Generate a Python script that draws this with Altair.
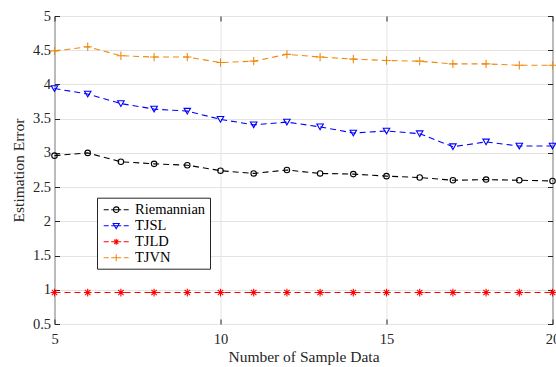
import altair as alt
import pandas as pd

# ---------------- data ----------------
x_vals = [5, 6, 7, 8, 9, 10, 11, 12, 13, 14, 15, 16, 17, 18, 19, 20]
series_names = ["Riemannian", "TJSL", "TJLD", "TJVN"]
riemannian = [2.96, 3.00, 2.87, 2.84, 2.82, 2.74, 2.70, 2.75, 2.70, 2.69, 2.66, 2.64, 2.60, 2.61, 2.60, 2.59]
tjsl = [3.94, 3.86, 3.72, 3.64, 3.61, 3.49, 3.41, 3.45, 3.38, 3.29, 3.32, 3.28, 3.09, 3.16, 3.10, 3.10]
tjld = [0.96, 0.96, 0.96, 0.96, 0.96, 0.96, 0.96, 0.96, 0.96, 0.96, 0.96, 0.96, 0.96, 0.96, 0.96, 0.96]
tjvn = [4.49, 4.55, 4.42, 4.40, 4.40, 4.32, 4.34, 4.44, 4.40, 4.37, 4.35, 4.34, 4.30, 4.30, 4.28, 4.28]
series_values = [riemannian, tjsl, tjld, tjvn]
x_ticks = [5, 10, 15, 20]
y_ticks = [0.5, 1, 1.5, 2, 2.5, 3, 3.5, 4, 4.5, 5]

# ---------------- styles ----------------
colors = ["#000000", "#0000FF", "#FF0000", "#EE8A12"]
marker_shapes = [
    "circle",
    "triangle-down",
    "M-1,0H1M0,-1V1M-0.7,-0.7L0.7,0.7M-0.7,0.7L0.7,-0.7",
    "M-1,0H1M0,-1V1",
]
marker_sizes = [30, 42, 60, 70]
# legend glyphs: dashed line segment with the marker in its middle
dashes = "M-0.757,0H-0.043M0.314,0H1.743M2.1,0H2.814"
legend_shapes = [
    dashes + "M1.43,0A0.4,0.4 0 1,1 0.63,0A0.4,0.4 0 1,1 1.43,0",
    dashes + "M0.6,-0.32L1.46,-0.32L1.03,0.43Z",
    dashes + "M0.6,0H1.46M1.03,-0.43V0.43M0.73,-0.3L1.33,0.3M0.73,0.3L1.33,-0.3",
    dashes + "M1.03,-0.5V0.5",
]
FONT = "Liberation Serif"
AX = "#262626"

rows = []
for name, vals in zip(series_names, series_values):
    for xv, yv in zip(x_vals, vals):
        rows.append({"x": xv, "y": yv, "series": name})
df = pd.DataFrame(rows)

xscale = alt.Scale(domain=[5, 20], nice=False, zero=False)
yscale = alt.Scale(domain=[0.5, 5], nice=False, zero=False)

main_x_axis = alt.Axis(values=x_ticks, grid=True, gridColor="#e3e3e3", ticks=False, domain=False,
                       labelFont=FONT, labelFontSize=14.5, labelColor=AX, labelPadding=8,
                       labelFlush=False, labelOverlap=False,
                       title="Number of Sample Data", titleFont=FONT, titleFontSize=15.5,
                       titleFontWeight="normal", titleColor=AX, titlePadding=4)
main_y_axis = alt.Axis(values=y_ticks, grid=True, gridColor="#e3e3e3", ticks=False, domain=False,
                       labelFont=FONT, labelFontSize=14.5, labelColor=AX, labelPadding=4,
                       labelFlush=False, labelOverlap=False, labelExpr="datum.value",
                       title="Estimation Error", titleFont=FONT, titleFontSize=15.5,
                       titleFontWeight="normal", titleColor=AX, titlePadding=6)


def tick_axis(orient, values):
    return alt.Axis(orient=orient, offset=-5, values=values, grid=False, domain=False,
                    labels=False, title=None, ticks=True, tickSize=5, tickColor=AX,
                    tickWidth=1)


axes_plan = [
    (main_x_axis, main_y_axis),
    (tick_axis("top", x_ticks), tick_axis("right", y_ticks)),
    (tick_axis("bottom", x_ticks), tick_axis("left", y_ticks)),
    (None, None),
]

layers = []
for i, name in enumerate(series_names):
    ax_x, ax_y = axes_plan[i]
    base = alt.Chart(df).transform_filter(alt.datum.series == name)
    line = base.mark_line(color=colors[i], strokeDash=[6, 4], strokeWidth=1.1).encode(
        x=alt.X("x:Q", scale=xscale, axis=ax_x),
        y=alt.Y("y:Q", scale=yscale, axis=ax_y),
    )
    layers.append(line)
for i, name in enumerate(series_names):
    base = alt.Chart(df).transform_filter(alt.datum.series == name)
    pts = base.mark_point(color=colors[i], shape=marker_shapes[i], size=marker_sizes[i],
                          filled=False, strokeWidth=1.1, opacity=1).encode(
        x=alt.X("x:Q", scale=xscale, axis=None),
        y=alt.Y("y:Q", scale=yscale, axis=None),
    )
    layers.append(pts)

legend = alt.Legend(orient="none", legendX=42.5, legendY=181.7, title=None,
                    fillColor="white", strokeColor=AX, padding=4,
                    symbolSize=196, symbolStrokeWidth=1.1, symbolOpacity=1,
                    symbolFillColor="transparent",
                    labelFont=FONT, labelFontSize=14.5, labelColor="#000000",
                    labelOffset=18, rowPadding=1)
legend_layer = alt.Chart(df).mark_point(filled=False, opacity=0).encode(
    x=alt.X("x:Q", scale=xscale, axis=None),
    y=alt.Y("y:Q", scale=yscale, axis=None),
    color=alt.Color("series:N", scale=alt.Scale(domain=series_names, range=colors),
                    sort=series_names, legend=legend),
    shape=alt.Shape("series:N", scale=alt.Scale(domain=series_names, range=legend_shapes),
                    sort=series_names, legend=legend),
)
layers.append(legend_layer)

chart = alt.layer(*layers).resolve_axis(x="independent", y="independent").properties(
    width=498, height=308,
    autosize=alt.AutoSizeParams(type="none"),
    padding={"left": 54.5, "top": 16, "right": 3.5, "bottom": 43},
    background="white",
).configure(font=FONT).configure_view(stroke=AX, strokeWidth=1).configure_legend(
    labelFont=FONT, labelFontSize=14.5, labelColor="#000000"
)

chart.save("out.html", embed_options={"renderer": "svg", "actions": False})
